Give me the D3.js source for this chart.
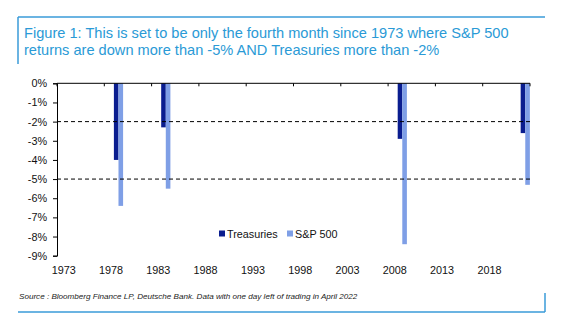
<!DOCTYPE html>
<html>
<head>
<meta charset="utf-8">
<script src="https://cdn.jsdelivr.net/npm/d3@7"></script>
<style>
  body { margin: 0; background: #fff; }
  svg { display: block; font-family: "Liberation Sans", Arial, sans-serif; }
</style>
</head>
<body>
<svg id="chart" width="567" height="332"></svg>
<script>
// Months where both series fell past the thresholds (decimal year)
const periods = [1979.0, 1984.0, 2009.0, 2022.0];
const treasuries = [-4.0, -2.3, -2.9, -2.6];
const sp500 = [-6.4, -5.5, -8.4, -5.3];

const yearLabels = [1973, 1978, 1983, 1988, 1993, 1998, 2003, 2008, 2013, 2018];
const yTicks = [0, -1, -2, -3, -4, -5, -6, -7, -8, -9];
const thresholds = [-2, -5];

const seriesNames = ["Treasuries", "S&P 500"];
const colors = ["#0a1d8f", "#7f9fe6"];
const frameBlue = "#3a9bd9";

const svg = d3.select("#chart");

// Header frame and title
svg.append("line")
  .attr("x1", 18).attr("x2", 545).attr("y1", 17).attr("y2", 17)
  .attr("stroke", frameBlue).attr("stroke-width", 1.5);
svg.append("line")
  .attr("x1", 18).attr("x2", 18).attr("y1", 17).attr("y2", 64)
  .attr("stroke", frameBlue).attr("stroke-width", 1.5);

const title = svg.append("text")
  .attr("x", 24).attr("y", 38)
  .attr("fill", "#2a9ad6")
  .attr("font-size", 14.6);
title.append("tspan").attr("x", 24).attr("y", 38)
  .text("Figure 1: This is set to be only the fourth month since 1973 where S&P 500");
title.append("tspan").attr("x", 24).attr("y", 55)
  .text("returns are down more than -5% AND Treasuries more than -2%");

// Scales
const x = d3.scaleLinear().domain([1972.5, 2022.5]).range([57, 530]);
const y = d3.scaleLinear().domain([-9, 0]).range([255.7, 83.3]);
const barW = 4.6;

const g = svg.append("g");

// Y axis
const yAxis = g.append("g")
  .attr("transform", `translate(${x(1972.5)},0)`)
  .call(d3.axisLeft(y).tickValues(yTicks).tickSize(4).tickPadding(6)
    .tickFormat(d => d + "%"));
yAxis.select(".domain").attr("stroke", "#000");
yAxis.selectAll(".tick line").attr("stroke", "#000");
yAxis.selectAll(".tick text")
  .attr("font-family", "Liberation Sans, Arial, sans-serif")
  .attr("font-size", 10.8).attr("fill", "#111");

// Bars
periods.forEach((p, i) => {
  g.append("rect")
    .attr("x", x(p) - barW).attr("width", barW)
    .attr("y", y(0)).attr("height", y(treasuries[i]) - y(0))
    .attr("fill", colors[0]);
  g.append("rect")
    .attr("x", x(p)).attr("width", barW)
    .attr("y", y(0)).attr("height", y(sp500[i]) - y(0))
    .attr("fill", colors[1]);
});

// Threshold lines
thresholds.forEach(t => {
  g.append("line")
    .attr("x1", x(1972.5)).attr("x2", x(2022.5))
    .attr("y1", y(t)).attr("y2", y(t))
    .attr("stroke", "#000").attr("stroke-width", 1)
    .attr("stroke-dasharray", "4,3");
});

// X axis along the zero line; ticks between year labels
const tickYears = d3.range(1972.5, 2023, 5);
g.append("line")
  .attr("x1", x(1972.5)).attr("x2", x(2022.5))
  .attr("y1", y(0)).attr("y2", y(0))
  .attr("stroke", "#000");
g.selectAll(".xtick").data(tickYears).enter().append("line")
  .attr("class", "xtick")
  .attr("x1", d => x(d)).attr("x2", d => x(d))
  .attr("y1", y(0)).attr("y2", y(0) + 3)
  .attr("stroke", "#000");
g.selectAll(".xlabel").data(yearLabels).enter().append("text")
  .attr("class", "xlabel")
  .attr("x", d => x(d) + 2)
  .attr("y", 274)
  .attr("text-anchor", "middle")
  .attr("font-size", 10.8).attr("fill", "#111")
  .text(d => d);

// Legend
const legend = g.append("g").attr("transform", "translate(219,234)");
const legendX = [0, 68];
seriesNames.forEach((name, i) => {
  legend.append("rect")
    .attr("x", legendX[i]).attr("y", -3.5).attr("width", 6).attr("height", 6)
    .attr("fill", colors[i]);
  legend.append("text")
    .attr("x", legendX[i] + 8).attr("y", 3.8)
    .attr("font-size", 10.8).attr("fill", "#111")
    .text(name);
});

// Footer frame and source
svg.append("text")
  .attr("x", 19).attr("y", 299)
  .attr("font-size", 8.1).attr("font-style", "italic").attr("fill", "#222")
  .text("Source : Bloomberg Finance LP, Deutsche Bank. Data with one day left of trading in April 2022");
svg.append("line")
  .attr("x1", 18).attr("x2", 545).attr("y1", 312).attr("y2", 312)
  .attr("stroke", frameBlue).attr("stroke-width", 1.5);
svg.append("line")
  .attr("x1", 545).attr("x2", 545).attr("y1", 293).attr("y2", 312)
  .attr("stroke", frameBlue).attr("stroke-width", 1.5);
</script>
</body>
</html>
